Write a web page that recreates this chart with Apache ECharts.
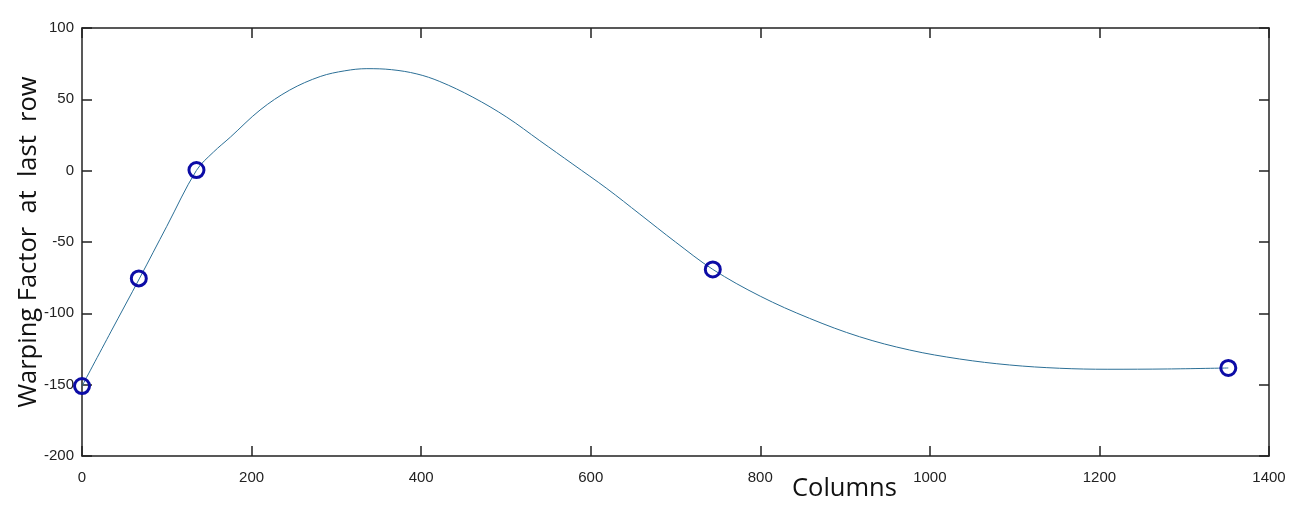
<html>
<head>
    <title>Warping Factor</title>
    <style>
        * { margin: 0; padding: 0; }
        #chart-container { width: 1296px; height: 506px; background: #fff; }
    </style>
</head>
<body>
<div id="chart-container"></div>
<script src="https://cdn.jsdelivr.net/npm/echarts@6.0.0/dist/echarts.min.js"></script>
<script>
    // fitted curve
    var curveX = [0, 34, 68, 100, 135, 155, 175, 210, 245, 281, 310, 336, 365, 395, 422, 461, 501, 540,
        579, 619, 658, 700, 744, 800, 858, 917, 976, 1035, 1094, 1153, 1210, 1280, 1352];
    var curveY = [-151, -113, -75.3, -39, 0.2, 13, 23.5, 42.5, 56.5, 66, 70, 71.5, 70.8, 67.8, 62.5, 51.5, 37.5, 21,
        4.5, -12.5, -30.5, -50, -69.2, -88, -103.5, -116.4, -125.7, -132, -136.2, -138.5, -139.2, -139, -138.3];

    // control points (circles)
    var markerX = [0, 67, 135, 744, 1352];
    var markerY = [-151, -75.5, 0.4, -69.2, -138.3];

    var xTicks = { min: 0, max: 1400, interval: 200 };
    var yTicks = { min: -200, max: 100, interval: 50 };

    var curve = curveX.map(function (x, i) { return [x, curveY[i]]; });
    var markers = markerX.map(function (x, i) { return [x, markerY[i]]; });

    var labelFont = {
        color: '#222', fontSize: 15, fontFamily: 'Liberation Sans, Arial, sans-serif',
        formatter: function (v) { return String(v); }
    };
    var lineStyle = { color: '#222', width: 1.5 };

    function boxAxis(pos, range) {
        return {
            type: 'value', min: range.min, max: range.max, interval: range.interval,
            position: pos,
            axisLine: { show: true, onZero: false, lineStyle: lineStyle },
            axisTick: { show: true, inside: true, length: 10, lineStyle: lineStyle },
            axisLabel: { show: false },
            splitLine: { show: false }
        };
    }

    var xBottom = boxAxis('bottom', xTicks);
    xBottom.axisLabel = Object.assign({ margin: 9 }, labelFont);

    var yLeft = boxAxis('left', yTicks);
    yLeft.axisLabel = Object.assign({ margin: 8 }, labelFont);
    yLeft.name = 'Warping Factor  at  last  row';
    yLeft.nameLocation = 'middle';
    yLeft.nameGap = 33;
    yLeft.nameMoveOverlap = false;
    yLeft.nameTextStyle = { fontSize: 25.5, color: '#111', fontFamily: 'Open Sans, sans-serif' };

    var dom = document.getElementById('chart-container');
    var myChart = echarts.init(dom, null, { renderer: 'canvas' });

    var option = {
        animation: false,
        grid: { left: 82, right: 27, top: 28, bottom: 50, outerBoundsMode: 'none', containLabel: false },
        xAxis: [xBottom, boxAxis('top', xTicks)],
        yAxis: [yLeft, boxAxis('right', yTicks)],
        graphic: [
            {
                type: 'text', left: 792, top: 468,
                style: { text: 'Columns', fontSize: 25.5, fill: '#111', fontFamily: 'Open Sans, sans-serif' }
            }
        ],
        series: [
            {
                type: 'line',
                data: curve,
                smooth: 0.35,
                showSymbol: false,
                lineStyle: { color: '#2b6f96', width: 1 },
                z: 2
            },
            {
                type: 'scatter',
                data: markers,
                symbol: 'circle',
                symbolSize: 15,
                itemStyle: { color: 'rgba(0,0,0,0)', opacity: 1, borderColor: '#0c0ca6', borderWidth: 3 },
                z: 3
            }
        ]
    };

    myChart.setOption(option);
    window.addEventListener('resize', myChart.resize);
</script>
</body>
</html>
